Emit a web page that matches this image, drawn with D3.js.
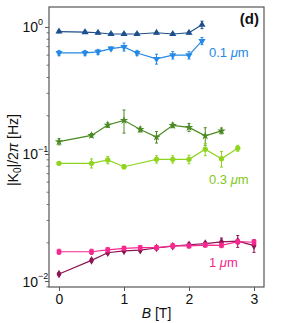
<!DOCTYPE html>
<html><head><meta charset="utf-8">
<script src="https://cdn.jsdelivr.net/npm/d3@7"></script>
<style>body{margin:0;background:#fff}text{font-family:"Liberation Sans",Arial,sans-serif}</style>
</head><body><svg id="c" width="283" height="323"></svg>
<script>
const bDarkBlue = [0, 0.4, 0.6, 0.8, 1.0, 1.2, 1.5, 1.75, 2.0, 2.2];
const vDarkBlue = [0.92, 0.91, 0.90, 0.88, 0.88, 0.88, 0.90, 0.88, 0.90, 1.04];
const eDarkBlue = [0.02, 0.02, 0.02, 0.02, 0.02, 0.02, 0.02, 0.02, 0.02, 0.07];

const bBlue = [0, 0.4, 0.6, 0.8, 1.0, 1.2, 1.5, 1.75, 2.0, 2.2];
const vBlue = [0.624, 0.624, 0.636, 0.676, 0.696, 0.624, 0.560, 0.599, 0.599, 0.776];
const eBlue = [0.03, 0.03, 0.03, 0.02, 0.05, 0.03, 0.05, 0.04, 0.04, 0.05];

const bGreen = [0, 0.5, 0.75, 1.0, 1.25, 1.5, 1.75, 2.0, 2.25, 2.5];
const vGreen = [0.125, 0.140, 0.169, 0.184, 0.156, 0.136, 0.168, 0.162, 0.139, 0.152];
const eGreen = [0.007, 0.005, 0.007, 0.038, 0.007, 0.014, 0.007, 0.012, 0.022, 0.008];

const bLime = [0, 0.5, 0.75, 1.0, 1.5, 1.75, 2.0, 2.25, 2.5, 2.75];
const vLime = [0.0845, 0.0845, 0.0897, 0.0794, 0.0908, 0.0908, 0.0908, 0.109, 0.0918, 0.111];
const eLime = [0.002, 0.007, 0.006, 0.003, 0.006, 0.006, 0.007, 0.012, 0.013, 0.006];

const bPink = [0, 0.5, 0.75, 1.0, 1.25, 1.5, 1.75, 2.0, 2.25, 2.5, 2.75, 3.0];
const vPink = [0.0170, 0.0170, 0.0176, 0.0181, 0.0183, 0.0183, 0.0189, 0.0189, 0.0192, 0.0191, 0.0204, 0.0202];
const ePink = [0.0008, 0.0008, 0.0007, 0.0007, 0.0007, 0.0007, 0.0008, 0.0007, 0.0007, 0.0008, 0.0009, 0.0010];

const bPlum = [0, 0.5, 0.75, 1.0, 1.25, 1.5, 1.75, 2.0, 2.25, 2.5, 2.75, 3.0];
const vPlum = [0.01135, 0.01455, 0.0167, 0.0173, 0.0175, 0.0182, 0.0188, 0.0193, 0.0197, 0.0203, 0.0206, 0.0190];
const ePlum = [0.0003, 0.0004, 0.0005, 0.0005, 0.0005, 0.0005, 0.0005, 0.0006, 0.0006, 0.0015, 0.0022, 0.0022];

const xTicks = [0, 1, 2, 3];
const yTicks = [1, 0.1, 0.01];
const yTickExp = ["0", "\u22121", "\u22122"];

const series = [
  {b: bDarkBlue, v: vDarkBlue, e: eDarkBlue, color: "#1d4f8c", sym: d3.symbolTriangle, rot: 0},
  {b: bBlue, v: vBlue, e: eBlue, color: "#2589e6", sym: d3.symbolTriangle, rot: 180},
  {b: bGreen, v: vGreen, e: eGreen, color: "#4a8a22", sym: d3.symbolStar, rot: 0},
  {b: bLime, v: vLime, e: eLime, color: "#8fd41e", sym: d3.symbolCircle, rot: 0},
  {b: bPlum, v: vPlum, e: ePlum, color: "#8c1452", sym: d3.symbolDiamond, rot: 0},
  {b: bPink, v: vPink, e: ePink, color: "#f7288f", sym: d3.symbolSquare, rot: 0}
];

const L = 49, R = 264, T = 7, B = 287;
const x = d3.scaleLinear().domain([-0.154, 3.154]).range([L, R]);
const y = d3.scaleLog().domain([Math.pow(10, -2.047), Math.pow(10, 0.157)]).range([B, T]);

const svg = d3.select("#c");
const axisColor = "#555";

// x axis
const xa = svg.append("g").attr("transform", `translate(0,${B})`)
  .call(d3.axisBottom(x).tickValues(xTicks).tickFormat(d3.format("d")).tickSize(4).tickPadding(3));
xa.selectAll("text").attr("font-size", 14).attr("fill", "#111");
xa.selectAll("line").attr("stroke", axisColor);
xa.select(".domain").remove();

// y axis (major + minor)
const minor = [];
for (let e = -3; e <= 0; e++) for (let k = 2; k <= 9; k++) {
  const v = k * Math.pow(10, e);
  if (v >= y.domain()[0] && v <= y.domain()[1]) minor.push(v);
}
const yg = svg.append("g").attr("transform", `translate(${L},0)`);
yg.call(d3.axisLeft(y).tickValues(yTicks).tickFormat("").tickSize(4));
yg.select(".domain").remove();
yg.selectAll("line").attr("stroke", axisColor);
yg.selectAll(".minor").data(minor).enter().append("line").attr("class", "minor")
  .attr("x1", -2.5).attr("x2", 0).attr("y1", d => y(d)).attr("y2", d => y(d))
  .attr("stroke", axisColor).attr("stroke-width", 0.8);
yTicks.forEach((v, i) => {
  svg.append("text").attr("x", 38).attr("y", y(v) + 5.5)
    .attr("text-anchor", "end").attr("font-size", 14).attr("fill", "#111").text("10");
  svg.append("text").attr("x", 38).attr("y", y(v) - 2).attr("font-size", 9).attr("fill", "#111")
    .text(yTickExp[i]);
});

// frame
svg.append("rect").attr("x", L).attr("y", T).attr("width", R - L).attr("height", B - T)
  .attr("fill", "none").attr("stroke", axisColor).attr("stroke-width", 1.2);

// series
const line = d3.line().x(d => x(d.b)).y(d => y(d.v));
series.forEach(s => {
  const pts = s.b.map((b, i) => ({b, v: s.v[i], e: s.e[i]}));
  const g = svg.append("g");
  g.append("path").datum(pts).attr("d", line).attr("fill", "none")
    .attr("stroke", s.color).attr("stroke-width", 1.2);
  const eb = g.selectAll(".eb").data(pts).enter().append("g");
  eb.append("line").attr("x1", d => x(d.b)).attr("x2", d => x(d.b))
    .attr("y1", d => y(d.v - d.e)).attr("y2", d => y(d.v + d.e))
    .attr("stroke", s.color).attr("stroke-width", 1);
  eb.append("line").attr("x1", d => x(d.b) - 1.5).attr("x2", d => x(d.b) + 1.5)
    .attr("y1", d => y(d.v - d.e)).attr("y2", d => y(d.v - d.e)).attr("stroke", s.color);
  eb.append("line").attr("x1", d => x(d.b) - 1.5).attr("x2", d => x(d.b) + 1.5)
    .attr("y1", d => y(d.v + d.e)).attr("y2", d => y(d.v + d.e)).attr("stroke", s.color);
  g.selectAll(".m").data(pts).enter().append("path")
    .attr("d", d3.symbol().type(s.sym).size(22))
    .attr("transform", d => `translate(${x(d.b)},${y(d.v)}) rotate(${s.rot})`)
    .attr("fill", s.color);
});

// labels
function muLabel(px, py, pre, color) {
  const t = svg.append("text").attr("x", px).attr("y", py).attr("font-size", 13).attr("fill", color);
  t.append("tspan").text(pre + " ");
  t.append("tspan").attr("font-style", "italic").text("\u03bc");
  t.append("tspan").text("m");
}
muLabel(209, 57, "0.1", "#2589e6");
muLabel(209, 184, "0.3", "#7fc81a");
muLabel(209, 267, "1", "#f0288c");

svg.append("text").attr("x", 259).attr("y", 24).attr("text-anchor", "end")
  .attr("font-size", 15).attr("font-weight", "bold").attr("fill", "#111").text("(d)");

const xl = svg.append("text").attr("x", x(1.5)).attr("y", 318).attr("text-anchor", "middle")
  .attr("font-size", 14).attr("fill", "#111");
xl.append("tspan").attr("font-style", "italic").text("B");
xl.append("tspan").text(" [T]");

const yl = svg.append("text").attr("transform", `translate(18,${(T + B) / 2 + 3}) rotate(-90)`)
  .attr("text-anchor", "middle").attr("font-size", 14).attr("fill", "#111");
yl.append("tspan").text("|K");
yl.append("tspan").attr("font-size", 10).attr("dy", 3).text("0");
yl.append("tspan").attr("dy", -3).text("|/2");
yl.append("tspan").attr("font-style", "italic").text("\u03c0");
yl.append("tspan").text(" [Hz]");
</script></body></html>
